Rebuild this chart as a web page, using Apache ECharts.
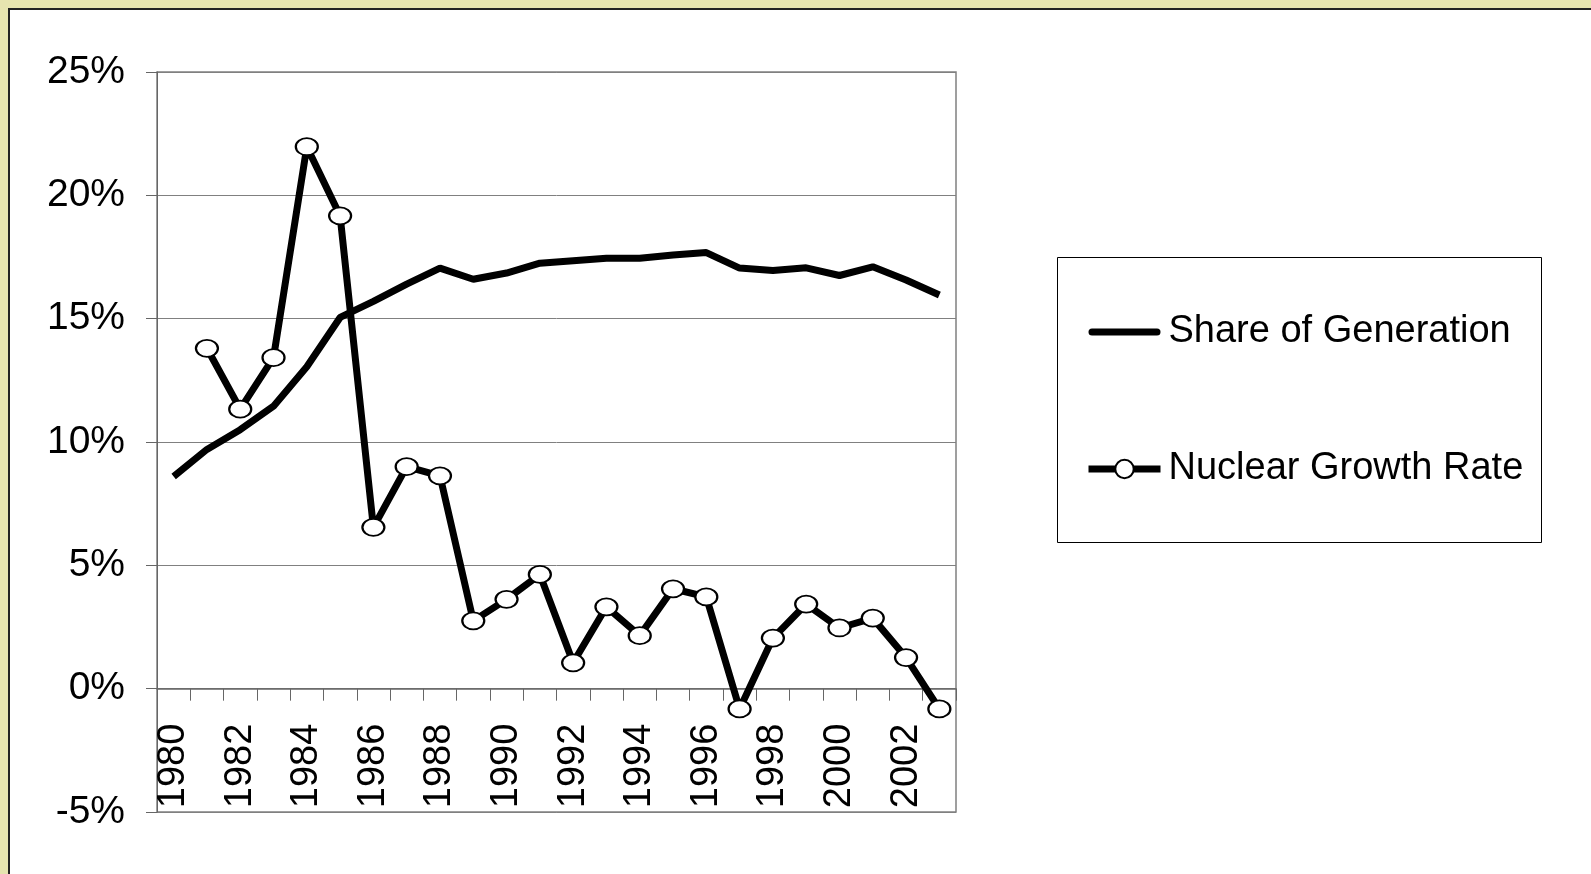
<!DOCTYPE html>
<html>
<head>
<meta charset="utf-8">
<script src="https://cdn.jsdelivr.net/npm/echarts@6/dist/echarts.min.js"></script>
<style>
  html, body { margin: 0; padding: 0; width: 1591px; height: 874px; overflow: hidden; background: #E6E4AF; }
  #panel { position: absolute; left: 8px; top: 8px; right: 0; bottom: 0; background: #fff; border-left: 2px solid #222; border-top: 2px solid #222; }
  #chart { position: absolute; left: 0; top: 0; width: 1591px; height: 874px; }
</style>
</head>
<body>
<div id="panel"></div>
<div id="chart"></div>
<script>
const years = ['1980','1981','1982','1983','1984','1985','1986','1987','1988','1989','1990','1991',
               '1992','1993','1994','1995','1996','1997','1998','1999','2000','2001','2002','2003'];
const shareOfGeneration = [8.6, 9.7, 10.5, 11.45, 13.05, 15.05, 15.7, 16.4, 17.05, 16.6, 16.85, 17.25,
                           17.35, 17.45, 17.45, 17.58, 17.68, 17.05, 16.95, 17.06, 16.75, 17.1, 16.57, 15.96];
const nuclearGrowthRate = [null, 13.8, 11.33, 13.42, 21.97, 19.17, 6.54, 9.0, 8.63, 2.75, 3.62, 4.63,
                           1.05, 3.32, 2.15, 4.05, 3.72, -0.82, 2.05, 3.43, 2.46, 2.86, 1.26, -0.82];
const yTicks = { min: -5, max: 25, interval: 5 };
const seriesNames = ['Share of Generation', 'Nuclear Growth Rate'];

const FONT = '"Liberation Sans", Arial, sans-serif';
const GRID = { left: 157, top: 72, right: 635, bottom: 62 };
const plotH = 874 - GRID.top - GRID.bottom;
// distance from bottom of plot to the zero line, through the value scale
const zeroOffset = plotH * (0 - yTicks.min) / (yTicks.max - yTicks.min);

const chart = echarts.init(document.getElementById('chart'), null, { renderer: 'canvas' });
chart.setOption({
  animation: false,
  backgroundColor: 'transparent',
  graphic: [{
    type: 'rect', left: 1057, top: 257, z: 0,
    shape: { width: 484, height: 285 },
    style: { fill: '#fff', stroke: '#000', lineWidth: 1 }
  }],
  grid: {
    left: GRID.left, top: GRID.top, right: GRID.right, bottom: GRID.bottom,
    outerBoundsMode: 'none', containLabel: false,
    show: true, borderColor: '#808080', borderWidth: 1.5, backgroundColor: 'transparent'
  },
  legend: {
    orient: 'vertical',
    left: 1085, top: 310,
    padding: 0,
    itemWidth: 72, itemHeight: 23, itemGap: 93,
    data: [
      { name: seriesNames[0], icon: 'path://M3.5,0H68.5A3.5,3.5 0 0 1 68.5,7H3.5A3.5,3.5 0 0 1 3.5,0Z' },
      { name: seriesNames[1] }
    ],
    lineStyle: { width: 7, color: '#000' },
    textStyle: { fontFamily: FONT, fontSize: 38, color: '#000', lineHeight: 44, padding: [0, 0, 0, 3] },
    z: 5
  },
  xAxis: {
    type: 'category',
    data: years,
    boundaryGap: true,
    offset: -zeroOffset,
    axisLine: { onZero: false, lineStyle: { color: '#666', width: 1.5 } },
    axisTick: { show: true, interval: 0, length: 12, lineStyle: { color: '#666' } },
    axisLabel: { interval: 1, rotate: 90, margin: 35, fontFamily: FONT, fontSize: 38, color: '#000' },
    splitLine: { show: false }
  },
  yAxis: {
    type: 'value',
    min: yTicks.min, max: yTicks.max, interval: yTicks.interval,
    axisLine: { show: true, onZero: false, lineStyle: { color: '#666' } },
    axisTick: { show: true, length: 11, lineStyle: { color: '#666' } },
    axisLabel: { formatter: '{value}%', margin: 32, fontFamily: FONT, fontSize: 39, color: '#000' },
    splitLine: { show: true, lineStyle: { color: '#808080', width: 1 } }
  },
  series: [
    {
      name: seriesNames[0], type: 'line', data: shareOfGeneration,
      symbol: 'none', showSymbol: false,
      lineStyle: { color: '#000', width: 7 },
      itemStyle: { color: '#000' },
      z: 3
    },
    {
      name: seriesNames[1], type: 'line', data: nuclearGrowthRate,
      symbol: 'circle', symbolSize: [22, 17], showSymbol: true,
      lineStyle: { color: '#000', width: 7 },
      itemStyle: { color: '#fff', borderColor: '#000', borderWidth: 2 },
      z: 4
    }
  ]
});
</script>
</body>
</html>
